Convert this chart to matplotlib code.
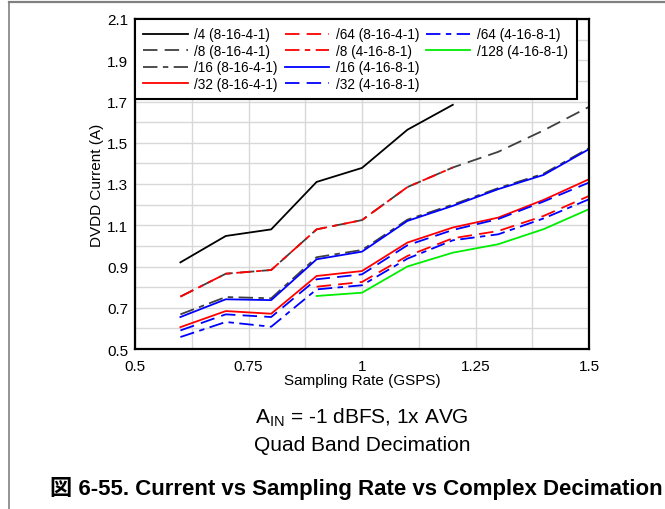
import numpy as np
import matplotlib
matplotlib.use("Agg")
import matplotlib.pyplot as plt
from matplotlib.lines import Line2D

plt.rcParams['font.family'] = ['Liberation Sans', 'Noto Sans CJK JP', 'DejaVu Sans']

nan = np.nan
rates = [0.6, 0.7, 0.8, 0.9, 1.0, 1.1, 1.2, 1.3, 1.4, 1.5]

d4_8164 = [0.92, 1.048, 1.08, 1.31, 1.378, 1.563, 1.684, nan, nan, nan]
d8_8164 = [0.754, 0.865, 0.883, 1.08, 1.125, 1.285, 1.38, 1.456, 1.56, 1.674]
d16_8164 = [0.668, 0.752, 0.746, 0.945, 0.98, 1.127, 1.2, 1.28, 1.35, 1.474]
d32_8164 = [0.606, 0.684, 0.671, 0.854, 0.878, 1.016, 1.089, 1.137, 1.223, 1.323]
d64_8164 = [nan, nan, nan, 0.802, 0.825, 0.951, 1.037, 1.072, 1.145, 1.242]
d8_41681 = [0.754, 0.865, 0.883, 1.08, 1.125, 1.285, 1.38, nan, nan, nan]
d16_41681 = [0.655, 0.741, 0.737, 0.935, 0.972, 1.121, 1.194, 1.275, 1.344, 1.469]
d32_41681 = [0.59, 0.668, 0.655, 0.838, 0.862, 1.003, 1.077, 1.13, 1.215, 1.307]
d64_41681 = [0.558, 0.631, 0.608, 0.789, 0.809, 0.938, 1.027, 1.056, 1.133, 1.226]
d128_41681 = [nan, nan, nan, 0.757, 0.773, 0.9, 0.967, 1.008, 1.081, 1.178]

labels = ['/4 (8-16-4-1)', '/8 (8-16-4-1)', '/16 (8-16-4-1)', '/32 (8-16-4-1)',
          '/64 (8-16-4-1)', '/8 (4-16-8-1)', '/16 (4-16-8-1)', '/32 (4-16-8-1)',
          '/64 (4-16-8-1)', '/128 (4-16-8-1)']
series = [d4_8164, d8_8164, d16_8164, d32_8164, d64_8164,
          d8_41681, d16_41681, d32_41681, d64_41681, d128_41681]
colors = ['black', '#404040', '#404040', 'red', 'red', 'red', 'blue', 'blue', 'blue', '#00ee00']
dash_solid = None
dash_dash = (8, 4)
dash_dd = (8, 3, 3, 3)
styles = [dash_solid, dash_dash, dash_dd, dash_solid, dash_dash,
          dash_dd, dash_solid, dash_dash, dash_dd, dash_solid]

fig = plt.figure(figsize=(6.65, 5.10), dpi=100)
W, H = 665, 510
ax = fig.add_axes([135 / W, 1 - 350 / H, (589 - 135) / W, (350 - 20) / H])

handles = []
for y, c, s, lab in zip(series, colors, styles, labels):
    kw = dict(color=c, lw=1.3, label=lab)
    if s is not None:
        kw['dashes'] = s
    (h,) = ax.plot(rates, y, **kw)
    handles.append(h)

ax.set_xlim(0.5, 1.5)
ax.set_ylim(0.5, 2.1)
ax.set_xticks([0.5, 0.75, 1.0, 1.25, 1.5])
ax.set_xticklabels(['0.5', '0.75', '1', '1.25', '1.5'])
ax.set_yticks([0.5, 0.7, 0.9, 1.1, 1.3, 1.5, 1.7, 1.9, 2.1])
ax.set_yticklabels(['0.5', '0.7', '0.9', '1.1', '1.3', '1.5', '1.7', '1.9', '2.1'])
ax.set_xticks(np.arange(0.5, 1.5001, 0.125), minor=True)
ax.set_yticks(np.arange(0.5, 2.1001, 0.1), minor=True)
ax.grid(which='both', color='#d8d8d8', lw=1.0)
ax.set_axisbelow(True)
ax.tick_params(which='both', length=0, labelsize=11)
ax.tick_params(axis='x', pad=7)
ax.tick_params(axis='y', pad=5)
for sp in ax.spines.values():
    sp.set_linewidth(1.6)
    sp.set_color('black')

ax.set_xlabel('Sampling Rate (GSPS)', fontsize=11, labelpad=0)
ax.set_ylabel('DVDD Current (A)', fontsize=11)
ax.yaxis.set_label_coords(-0.068, 0.5)

# two empty slots so the columns fill 4-4-2 like the original
blank = [Line2D([], [], color='none') for _ in range(2)]
leg = ax.legend(handles=handles + blank, labels=labels + ['', ''], ncol=3,
                loc='upper left', bbox_to_anchor=(0, 1),
                borderaxespad=0, fontsize=9.8, handlelength=3.25, handletextpad=0.5,
                columnspacing=0.5, labelspacing=0.18, frameon=True, fancybox=False,
                framealpha=1, edgecolor='black', borderpad=0.62)
leg.get_frame().set_linewidth(1.5)

fig.text(362 / W, 1 - 418 / H, r'A$_{\mathregular{IN}}$ = -1 dBFS, 1x AVG',
         ha='center', va='center', fontsize=15)
fig.text(362 / W, 1 - 446 / H, 'Quad Band Decimation', ha='center', va='center', fontsize=15)
fig.text(356 / W, 1 - 489 / H, '図 6-55. Current vs Sampling Rate vs Complex Decimation',
         ha='center', va='center', fontsize=16, fontweight='bold')

# outer border lines
fig.add_artist(Line2D([9 / W, 9 / W], [0, 1 - 3 / H], transform=fig.transFigure,
                      color='#808080', lw=1.2))
fig.add_artist(Line2D([9 / W, 1], [1 - 3 / H, 1 - 3 / H], transform=fig.transFigure,
                      color='#808080', lw=1.6))

fig.savefig('out.png', dpi=100)
